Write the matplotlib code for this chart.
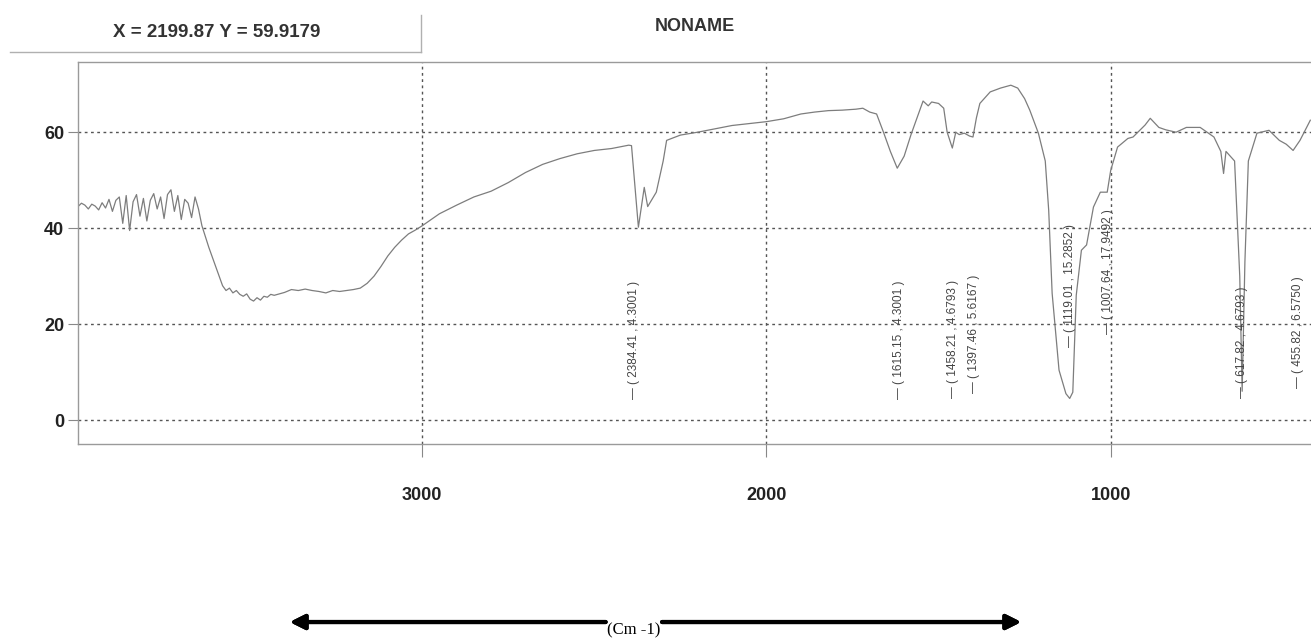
import numpy as np
import matplotlib
matplotlib.use("Agg")
from matplotlib import pyplot as plt
from matplotlib.lines import Line2D

# noisy start of the spectrum, 4000 -> 3650 cm-1, step 10
noise_x = list(range(4000, 3640, -10))
noise_y = [44.5, 45.2, 44.8, 44.0, 45.0, 44.6, 43.8, 45.3, 44.2, 46.0,
           43.5, 45.8, 46.5, 41.0, 46.8, 39.5, 45.5, 47.0, 42.5, 46.2,
           41.5, 45.8, 47.2, 44.0, 46.5, 42.0, 47.0, 48.0, 43.5, 46.8,
           41.8, 46.0, 45.2, 42.2, 46.5, 44.0]

# rest of the trace
wave = [3640, 3620, 3600, 3580, 3570, 3560, 3550, 3540, 3530, 3520,
        3510, 3500, 3490, 3480, 3470, 3460, 3450, 3440, 3430, 3400,
        3380, 3360, 3340, 3320, 3300, 3280, 3260, 3240, 3220, 3200,
        3180, 3160, 3140, 3120, 3100, 3080, 3060, 3040, 3020, 3000,
        2950, 2900, 2850, 2800, 2750, 2700, 2650, 2600, 2550, 2500,
        2450, 2400, 2392, 2372, 2355, 2345, 2320, 2300, 2290, 2250,
        2200, 2150, 2100, 2050, 2000, 1950, 1900, 1860, 1820, 1780,
        1740, 1720, 1700, 1680, 1660, 1640, 1620, 1600, 1580, 1560,
        1545, 1530, 1520, 1500, 1485, 1475, 1460, 1450, 1440, 1425,
        1410, 1400, 1390, 1380, 1350, 1320, 1290, 1270, 1250, 1235,
        1210, 1190, 1180, 1170, 1150, 1130, 1119, 1110, 1100, 1085,
        1070, 1050, 1030, 1010, 1000, 980, 950, 935, 900, 885,
        860, 840, 810, 780, 740, 700, 680, 672, 665, 640,
        625, 618, 610, 600, 575, 540, 510, 490, 470, 450,
        420]
trans = [40.5, 36.0, 32.0, 28.0, 27.0, 27.5, 26.5, 27.0, 26.2, 25.8,
         26.3, 25.2, 24.8, 25.5, 25.0, 25.8, 25.6, 26.2, 26.0, 26.6,
         27.2, 27.0, 27.3, 27.0, 26.8, 26.5, 27.0, 26.8, 27.0, 27.2,
         27.5, 28.5, 30.0, 32.0, 34.2, 36.0, 37.5, 38.8, 39.6, 40.5,
         43.0, 44.8, 46.5, 47.7, 49.5, 51.6, 53.3, 54.5, 55.5, 56.2,
         56.6, 57.3, 57.2, 40.2, 48.5, 44.5, 47.5, 54.0, 58.3, 59.4,
         60.0, 60.7, 61.4, 61.8, 62.2, 62.8, 63.8, 64.2, 64.5, 64.6,
         64.8, 65.0, 64.2, 63.8, 60.0, 56.0, 52.5, 55.0, 59.5, 63.5,
         66.5, 65.5, 66.3, 66.0, 65.0, 60.0, 56.7, 60.0, 59.5, 59.8,
         59.2, 59.0, 63.0, 66.0, 68.4, 69.2, 69.8, 69.2, 67.0, 64.6,
         59.8, 54.0, 43.7, 26.4, 10.4, 5.5, 4.5, 5.8, 26.0, 35.4,
         36.5, 44.4, 47.5, 47.5, 52.0, 56.9, 58.7, 59.0, 61.5, 62.9,
         61.0, 60.5, 60.0, 61.0, 61.0, 59.0, 56.0, 51.4, 56.0, 54.0,
         30.0, 6.0, 33.0, 54.0, 59.8, 60.4, 58.3, 57.5, 56.2, 58.3,
         62.5]

peak_x = [2384.41, 1615.15, 1458.21, 1397.46, 1119.01, 1007.64, 617.82, 455.82]
peak_y = [4.3001, 4.3001, 4.6793, 5.6167, 15.2852, 17.9492, 4.6793, 6.5750]
peak_text = ["2384.41 , 4.3001", "1615.15 , 4.3001", "1458.21 , 4.6793",
             "1397.46 , 5.6167", "1119.01 , 15.2852", "1007.64 , 17.9492",
             "617.82 , 4.6793", "455.82 , 6.5750"]

plt.rcParams['font.family'] = ['Liberation Sans', 'DejaVu Sans']

fig = plt.figure(figsize=(13.11, 6.41), dpi=100)
ax = fig.add_axes([0.0595, 0.3073, 0.9405, 0.5957])

ax.plot(noise_x + wave, noise_y + trans, color="#7d7d7d", lw=0.9)

for px, py, t in zip(peak_x, peak_y, peak_text):
    ax.text(px, py, "\u2014 ( " + t + " )", rotation=90, fontsize=8.5,
            color="#444444", ha="center", va="bottom")

ax.set_xlim(4000, 418)
ax.set_ylim(-5, 74.6)
ax.set_xticks([3000, 2000, 1000])
ax.set_yticks([0, 20, 40, 60])
ax.grid(True, color="#555555", linestyle=(0, (2, 2.5)), linewidth=1)
ax.tick_params(axis="x", length=9, width=0.8, color="#888888", pad=22,
               labelsize=13)
ax.tick_params(axis="y", length=7, width=0.8, color="#888888", pad=3,
               labelsize=13)
for lab in ax.get_xticklabels() + ax.get_yticklabels():
    lab.set_fontweight("bold")
    lab.set_color("#222222")

for side in ["left", "top", "bottom"]:
    ax.spines[side].set_color("#9a9a9a")
    ax.spines[side].set_linewidth(1)
ax.spines["right"].set_visible(False)

# header box
fig.add_artist(Line2D([0.008, 0.321], [0.919, 0.919], color="#b0b0b0", lw=1))
fig.add_artist(Line2D([0.321, 0.321], [0.919, 0.977], color="#b0b0b0", lw=1))
fig.text(0.165, 0.950, "X = 2199.87 Y = 59.9179", fontsize=13.5,
         fontweight="bold", color="#333333", ha="center", va="center")
fig.text(0.530, 0.958, "NONAME", fontsize=13, fontweight="bold",
         color="#333333", ha="center", va="center")

# wavenumber arrow at the bottom
arrow = dict(arrowstyle="-|>", lw=3, color="black", mutation_scale=22,
             shrinkA=0, shrinkB=0)
fig.add_artist(plt.annotate("", xy=(0.221, 0.0296), xytext=(0.462, 0.0296),
                            xycoords="figure fraction", arrowprops=arrow))
fig.add_artist(plt.annotate("", xy=(0.779, 0.0296), xytext=(0.505, 0.0296),
                            xycoords="figure fraction", arrowprops=arrow))
fig.text(0.4835, 0.0296, "(Cm -1)", family="Liberation Serif", fontsize=12,
         ha="center", va="top", color="black")

fig.savefig("out.png", dpi=100)
